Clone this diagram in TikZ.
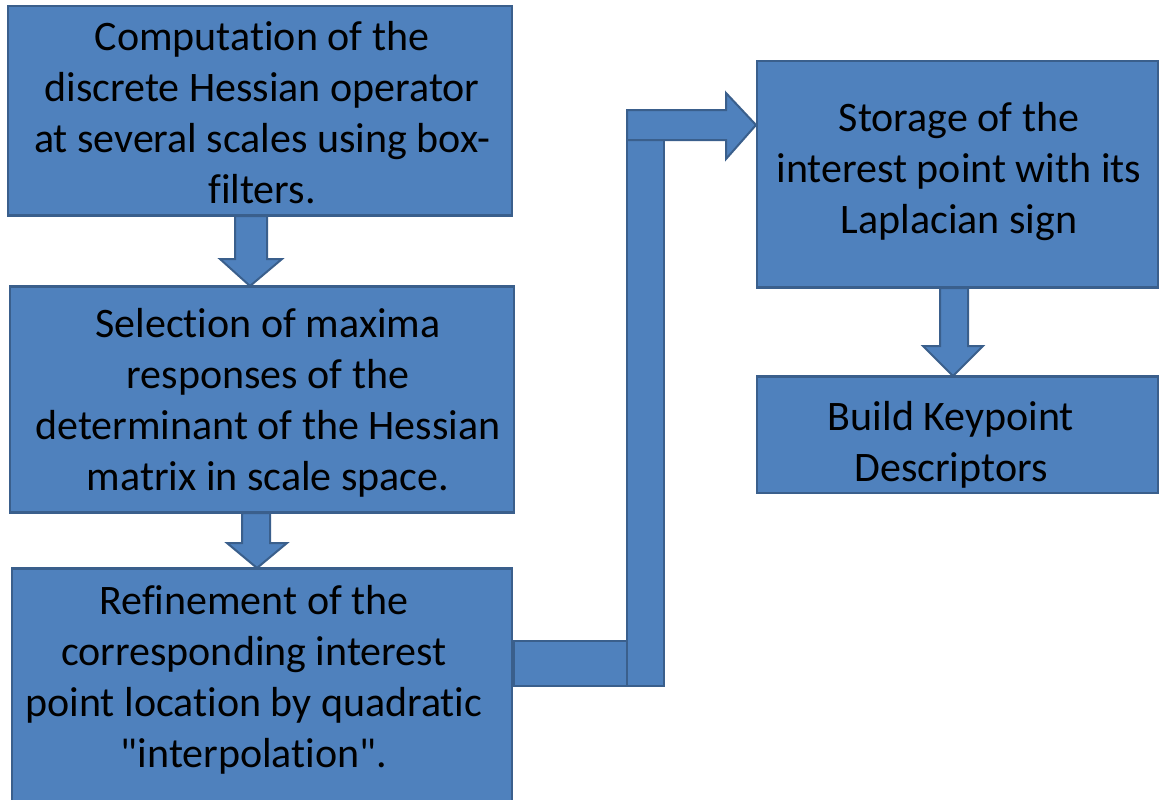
\documentclass[tikz,border=0pt]{standalone}
\usepackage{fontspec}
\setmainfont{Carlito}[Ligatures={TeXOff,NoCommon}]
\usetikzlibrary{calc}
\definecolor{boxfill}{HTML}{4F81BD}
\definecolor{boxline}{HTML}{3A5F8C}
\begin{document}
\begin{tikzpicture}[x=1pt,y=-1pt,
  box/.style={draw=boxline, fill=boxfill, line width=2pt, rectangle, inner sep=0pt},
  txt/.style={align=center, text=black, font=\fontsize{42}{51}\selectfont, inner sep=0pt},
  blk/.style={draw=boxline, fill=boxfill, line width=2pt, line join=miter}]
\useasboundingbox (0,0) rectangle (1160,800);
\fill[white] (0,0) rectangle (1160,800);

% process boxes
\node[box, minimum width=504, minimum height=209] (b1) at (260,110.5) {};
\node[box, minimum width=504, minimum height=225] (b2) at (262,399.5) {};
\node[box, minimum width=500, minimum height=250] (b3) at (262,694) {};
\node[box, minimum width=401, minimum height=226] (b4) at (957.5,174) {};
\node[box, minimum width=401, minimum height=116] (b5) at (957.5,435) {};

% block arrows between stacked boxes
\draw[blk] ($(b1.south)+(-25,0)$) -- ++(0,43) -- ++(-15,0) -- ($(b2.north)+(-12,0)$)
  -- ($(b1.south)+(22,43)$) -- ++(-15,0) -- ++(0,-43) -- cycle;
\draw[blk] ($(b2.south)+(-20,0)$) -- ++(0,30) -- ++(-15,0) -- ($(b3.north)+(-5,0)$)
  -- ($(b2.south)+(25,30)$) -- ++(-17,0) -- ++(0,-30) -- cycle;
\draw[blk] ($(b4.south)+(-17.5,0)$) -- ++(0,58) -- ++(-17,0) -- ($(b5.north)+(-4.5,0)$)
  -- ($(b4.south)+(25.5,58)$) -- ++(-15,0) -- ++(0,-58) -- cycle;

% bent arrow from the refinement step up to the storage step
\coordinate (tip) at ($(b4.west)+(0,-49)$);
\draw[blk] ($(b3.north east)+(1,73)$) rectangle ++(115,45);
\draw[blk] ($(tip)+(-129,15)$) rectangle ($(b3.north east)+(151,118)$);
\draw[blk] ($(tip)+(-129,-15)$) -- ($(tip)+(-30,-15)$) -- ($(tip)+(-30,-32)$) -- (tip)
  -- ($(tip)+(-30,34)$) -- ($(tip)+(-30,15)$) -- ($(tip)+(-129,15)$) -- cycle;

% redraw box outlines over the arrow ends
\draw[boxline, line width=2pt] (b1.south west) -- (b1.south east);
\draw[boxline, line width=2pt] (b2.north west) -- (b2.north east) (b2.south west) -- (b2.south east);
\draw[boxline, line width=2pt] (b3.north west) -- (b3.north east);
\draw[boxline, line width=2pt] (b4.south west) -- (b4.south east) (b5.north west) -- (b5.north east);

% labels
\node[txt] (t1) at (262,113) {Computation of the\\discrete Hessian operator\\at several scales using box-\\filters.};
\node[txt] (t2) at (268,403) {Selection of maxima\\responses of the\\determinant of the Hessian\\matrix in scale space.};
\node[txt] (t3) at (254,680) {Refinement of the\\corresponding interest\\point location by quadratic\\"interpolation".};
\node[txt] (t4) at (959,172) {Storage of the\\interest point with its\\Laplacian sign};
\node[txt] (t5) at (951,445) {Build Keypoint\\Descriptors};
\end{tikzpicture}
\end{document}
